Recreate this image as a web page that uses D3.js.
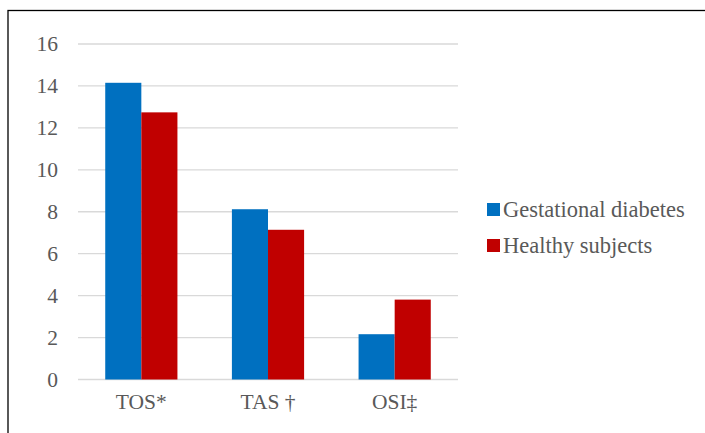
<!DOCTYPE html>
<html>
<head>
<meta charset="utf-8">
<script src="https://cdn.jsdelivr.net/npm/d3@7"></script>
<style>
  body { margin: 0; background: #fff; }
  svg { display: block; }
</style>
</head>
<body>
<svg id="chart" width="705" height="433"></svg>
<script>
const categories = ["TOS*", "TAS †", "OSI‡"];
const seriesNames = ["Gestational diabetes", "Healthy subjects"];
const gestational = [14.15, 8.12, 2.16];
const healthy = [12.74, 7.14, 3.81];
const yTicks = [0, 2, 4, 6, 8, 10, 12, 14, 16];
const colors = ["#0070C0", "#C00000"];

const FONT = '"Liberation Serif", "Times New Roman", serif';
const svg = d3.select("#chart");
const W = 705, H = 433;
const plot = { left: 78, right: 458, top: 44, bottom: 379.5 };

// chart border
svg.append("rect")
  .attr("x", 8).attr("y", 10.5)
  .attr("width", W + 10).attr("height", H + 10)
  .attr("fill", "none").attr("stroke", "#000").attr("stroke-width", 1.3);

const y = d3.scaleLinear().domain([0, 16]).range([plot.bottom, plot.top]);
const x0 = d3.scaleBand().domain(categories).range([plot.left, plot.right])
  .paddingInner(0.43).paddingOuter(0.215);
const x1 = d3.scaleBand().domain(seriesNames).range([0, x0.bandwidth()]);

// gridlines
svg.append("g").selectAll("line").data(yTicks).join("line")
  .attr("x1", plot.left).attr("x2", plot.right)
  .attr("y1", d => y(d)).attr("y2", d => y(d))
  .attr("stroke", "#d9d9d9").attr("stroke-width", 1.3);

// y axis labels
const yAxis = d3.axisLeft(y).tickValues(yTicks).tickSize(0).tickPadding(0);
const gy = svg.append("g").attr("transform", `translate(${plot.left - 20},0)`).call(yAxis)
  .attr("font-family", FONT);
gy.select(".domain").remove();
gy.selectAll("text").style("font-size", "21.5px").style("fill", "#595959")
  .style("font-family", FONT);

// bars
const data = categories.map((c, i) => ({ cat: c, vals: [gestational[i], healthy[i]] }));
const groups = svg.append("g").selectAll("g").data(data).join("g")
  .attr("transform", d => `translate(${x0(d.cat)},0)`);
groups.selectAll("rect").data(d => d.vals.map((v, j) => ({ name: seriesNames[j], v, j })))
  .join("rect")
  .attr("x", d => x1(d.name))
  .attr("width", x1.bandwidth())
  .attr("y", d => y(d.v))
  .attr("height", d => y(0) - y(d.v))
  .attr("fill", d => colors[d.j]);

// x axis labels
const xAxis = d3.axisBottom(x0).tickSize(0).tickPadding(0);
const gx = svg.append("g").attr("transform", `translate(0,${plot.bottom + 14})`).call(xAxis)
  .attr("font-family", FONT);
gx.select(".domain").remove();
gx.selectAll("text").style("font-size", "21.5px").style("fill", "#595959")
  .attr("dy", "0.71em")
  .style("font-family", FONT);

// legend
const legend = svg.append("g").selectAll("g").data(seriesNames).join("g")
  .attr("transform", (d, i) => `translate(487,${203 + i * 36})`);
legend.append("rect").attr("width", 13).attr("height", 13)
  .attr("fill", (d, i) => colors[i]);
legend.append("text").attr("x", 16).attr("y", 13.5)
  .style("font-family", FONT).style("font-size", "22.5px").style("fill", "#595959")
  .text(d => d);
</script>
</body>
</html>
